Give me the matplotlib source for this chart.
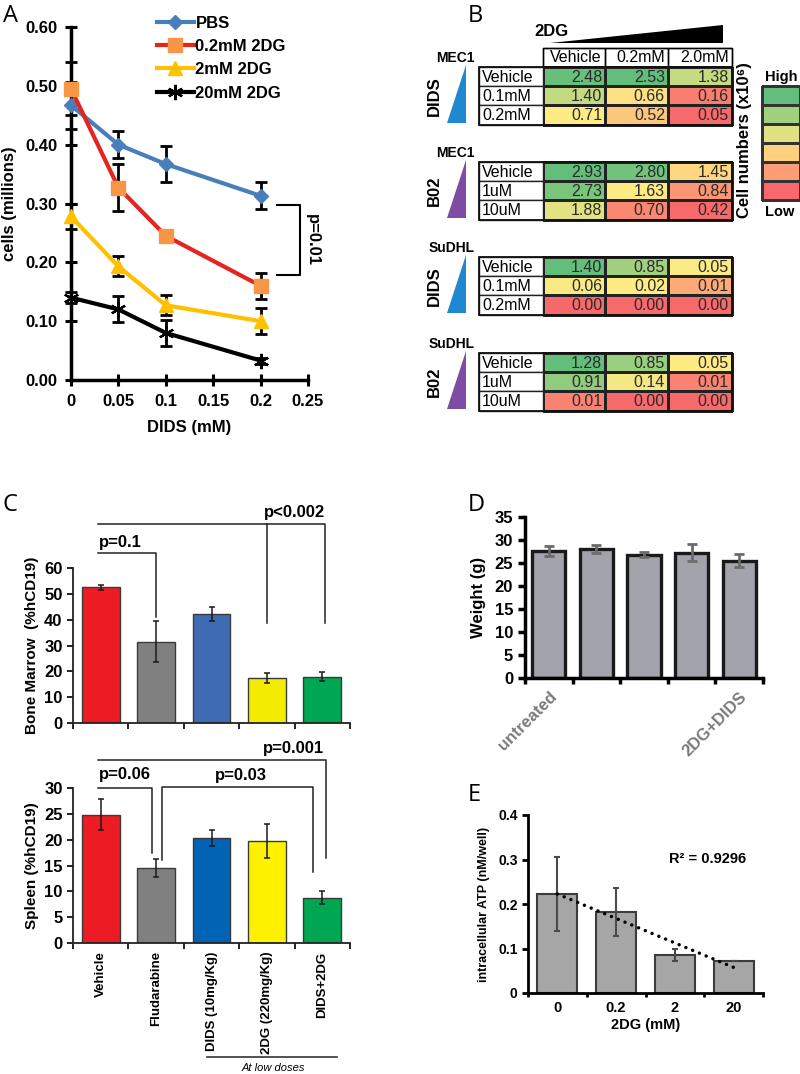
import numpy as np
import matplotlib
matplotlib.use("Agg")
import matplotlib.pyplot as plt
from matplotlib.colors import LinearSegmentedColormap, TwoSlopeNorm, Normalize
from matplotlib.patches import Polygon, Rectangle

plt.rcParams['font.family'] = ['Liberation Sans', 'DejaVu Sans']

# ---- panel A: cell counts vs DIDS
dids_mM = [0, 0.05, 0.1, 0.2]
pbs = [0.467, 0.400, 0.367, 0.313]
pbs_err = [0.040, 0.023, 0.030, 0.023]
dg_02 = [0.495, 0.327, 0.245, 0.160]
dg_02_err = [0.045, 0.040, 0.0, 0.022]
dg_2 = [0.278, 0.193, 0.127, 0.100]
dg_2_err = [0.022, 0.017, 0.017, 0.022]
dg_20 = [0.140, 0.120, 0.080, 0.033]
dg_20_err = [0.009, 0.022, 0.022, 0.005]

# ---- panel B: cell numbers (x10^6), rows = inhibitor dose, cols = 2DG dose
b_cols = ["Vehicle", "0.2mM", "2.0mM"]
dids_rows = ["Vehicle", "0.1mM", "0.2mM"]
b02_rows = ["Vehicle", "1uM", "10uM"]
mec1_dids = [[2.48, 2.53, 1.38], [1.40, 0.66, 0.16], [0.71, 0.52, 0.05]]
mec1_b02 = [[2.93, 2.80, 1.45], [2.73, 1.63, 0.84], [1.88, 0.70, 0.42]]
sudhl_dids = [[1.40, 0.85, 0.05], [0.06, 0.02, 0.01], [0.00, 0.00, 0.00]]
sudhl_b02 = [[1.28, 0.85, 0.05], [0.91, 0.14, 0.01], [0.01, 0.00, 0.00]]

# ---- panel C: %hCD19
c_groups = ["Vehicle", "Fludarabine", "DIDS (10mg/Kg)", "2DG (220mg/Kg)", "DIDS+2DG"]
marrow = [52.5, 31.5, 42.2, 17.5, 18.0]
marrow_err = [1.0, 7.8, 2.8, 2.0, 1.8]
spleen = [24.8, 14.5, 20.3, 19.7, 8.8]
spleen_err = [3.0, 1.8, 1.6, 3.3, 1.3]
marrow_colors = ['#ed1c24', '#808080', '#3f6bb5', '#f4ec00', '#00a651']
spleen_colors = ['#ed1c24', '#808080', '#0063b4', '#fff200', '#00a651']

# ---- panel D: weight
d_labels = ["untreated", "", "", "", "2DG+DIDS"]
weight = [27.6, 28.0, 26.8, 27.2, 25.5]
weight_err = [1.0, 0.85, 0.55, 1.85, 1.45]

# ---- panel E: ATP
e_doses = ["0", "0.2", "2", "20"]
atp = [0.222, 0.182, 0.085, 0.071]
atp_err = [0.083, 0.055, 0.014, 0.0]

W, H = 800, 1074
fig = plt.figure(figsize=(W / 100, H / 100), dpi=100)


def px_axes(x0, y0, x1, y1):
    return fig.add_axes([x0 / W, 1 - y1 / H, (x1 - x0) / W, (y1 - y0) / H])


bold = dict(fontweight='bold')

# overlay in pixel coordinates for panel B and free annotations
ov = fig.add_axes([0, 0, 1, 1])
ov.set_xlim(0, W)
ov.set_ylim(H, 0)
ov.axis('off')

for txt, (x, y) in zip("ABCDE", [(3, 16), (468, 16), (3, 505), (468, 505), (468, 795)]):
    ov.text(x, y, txt, fontsize=17, family='Open Sans', va='center', ha='left')

# ================= A
axA = px_axes(71, 27, 308, 380)
series = [
    ("PBS", pbs, pbs_err, dict(color='#4a7ebb', marker='D', ms=7)),
    ("0.2mM 2DG", dg_02, dg_02_err, dict(color='#e5231f', marker='s', ms=10,
                                          mfc='#f79646', mec='#f79646')),
    ("2mM 2DG", dg_2, dg_2_err, dict(color='#ffc000', marker='^', ms=10)),
    ("20mM 2DG", dg_20, dg_20_err, dict(color='black', marker=(6, 2, 0), ms=11, mew=1.6)),
]
handles = []
for name, vals, err, style in series:
    axA.errorbar(dids_mM, vals, yerr=err, fmt='none', ecolor='black', elinewidth=2,
                 capsize=4.5, capthick=2, clip_on=False, zorder=2)
for name, vals, err, style in series:
    h, = axA.plot(dids_mM, vals, lw=3, clip_on=False, label=name, zorder=3, **style)
    handles.append(h)
axA.set_xlim(0, 0.25)
axA.set_ylim(0, 0.6)
axA.set_xticks([0, 0.05, 0.1, 0.15, 0.2, 0.25])
axA.set_xticklabels(["0", "0.05", "0.1", "0.15", "0.2", "0.25"], **bold)
axA.set_yticks(np.arange(0, 0.61, 0.1))
axA.set_yticklabels([f"{v:.2f}" for v in np.arange(0, 0.61, 0.1)], **bold)
axA.tick_params(labelsize=12, width=2.2, length=8, direction='inout', pad=6)
for s in ['top', 'right']:
    axA.spines[s].set_visible(False)
for s in ['left', 'bottom']:
    axA.spines[s].set_linewidth(2.5)
axA.set_xlabel("DIDS (mM)", fontsize=12, labelpad=8, **bold)
axA.set_ylabel("cells (millions)", fontsize=12, labelpad=6, **bold)
axA.legend(handles=handles, loc='upper left', bbox_to_anchor=(0.30, 1.075), frameon=False,
           handlelength=2.2, handletextpad=0.1, labelspacing=0.5,
           prop=dict(size=12, weight='bold'))
axA.plot([0.217, 0.2415, 0.2415, 0.217], [0.298, 0.298, 0.178, 0.178], color='black',
         lw=1.5, clip_on=False)
axA.text(0.2545, 0.238, "p=0.01", rotation=-90, ha='center', va='center', fontsize=12,
         **bold)

# ================= B
cmap = LinearSegmentedColormap.from_list('excel', ['#f8696b', '#ffeb84', '#63be7b'])
col_edges = np.array([543, 605, 668, 732])
row_h = 19.2
lab_x0 = 479
ov.add_patch(Rectangle((col_edges[0], 48), col_edges[-1] - col_edges[0], 19,
                       fc='white', ec='black', lw=1))
for j, c in enumerate(b_cols):
    ov.add_patch(Rectangle((col_edges[j], 48), col_edges[j + 1] - col_edges[j], 19,
                           fc='none', ec='black', lw=1))
    ov.text(col_edges[j + 1] - 3, 58, c, ha='right', va='center', fontsize=11.5)
ov.text(534, 31, "2DG", ha='left', va='center', fontsize=12, **bold)
ov.add_patch(Polygon([(550, 43), (723, 43), (723, 25)], closed=True, fc='black', ec='none'))

tables = [("MEC1", "DIDS", dids_rows, mec1_dids, '#1e88d0', 67),
          ("MEC1", "B02", b02_rows, mec1_b02, '#7e4da3', 162),
          ("SuDHL", "DIDS", dids_rows, sudhl_dids, '#1e88d0', 257),
          ("SuDHL", "B02", b02_rows, sudhl_b02, '#7e4da3', 353)]
for cell, drug, rows, vals, wcol, top in tables:
    vals = np.array(vals)
    row_edges = top + row_h * np.arange(len(rows) + 1)
    norm = TwoSlopeNorm(vcenter=np.median(vals), vmin=vals.min(), vmax=vals.max())
    ov.pcolormesh(col_edges, row_edges, vals, cmap=cmap, norm=norm,
                  edgecolors='#222222', linewidth=1)
    for i, r in enumerate(rows):
        ov.add_patch(Rectangle((lab_x0, row_edges[i]), col_edges[0] - lab_x0, row_h,
                               fc='white', ec='#222222', lw=1))
        ov.text(lab_x0 + 3, row_edges[i] + row_h / 2 + 0.5, r, ha='left', va='center',
                fontsize=11.5)
        for j in range(len(b_cols)):
            ov.text(col_edges[j + 1] - 3, row_edges[i] + row_h / 2 + 0.5, f"{vals[i, j]:.2f}",
                    ha='right', va='center', fontsize=11.5, color='#2a2a2a')
    ov.add_patch(Rectangle((lab_x0, top), col_edges[-1] - lab_x0, row_edges[-1] - top,
                           fc='none', ec='#111111', lw=1.3))
    ov.text(475, top - 9, cell, ha='right', va='center', fontsize=10, **bold)
    ov.text(434, (top + row_edges[-1]) / 2, drug, rotation=90, ha='center', va='center',
            fontsize=12, **bold)
    ov.add_patch(Polygon([(466, top - 2), (447, top + 56), (466, top + 56)], closed=True,
                         fc=wcol, ec='none'))

legend_levels = np.arange(6)[::-1].reshape(-1, 1)
ov.pcolormesh([762, 800], 86 + 19 * np.arange(7), legend_levels, cmap=cmap,
              norm=Normalize(0, 5), edgecolors='#333333', linewidth=1)
ov.text(765, 77, "High", ha='left', va='center', fontsize=10.5, **bold)
ov.text(765, 212, "Low", ha='left', va='center', fontsize=10.5, **bold)
ov.text(744, 140, "Cell numbers (x10\u2076)", rotation=90, ha='center', va='center',
        fontsize=12, **bold)


# ================= C
def bar_axes(ax, vals, err, colors, ymax, step):
    x = np.arange(len(vals))
    ax.bar(x, vals, width=0.68, color=colors, edgecolor='#3a3a3a', lw=1, zorder=2)
    ax.errorbar(x, vals, yerr=err, fmt='none', ecolor='#1a1a1a', elinewidth=1.1,
                capsize=2.5, capthick=1.1, zorder=3)
    ax.set_xlim(-0.5, len(vals) - 0.5)
    ax.set_ylim(0, ymax)
    ax.set_yticks(np.arange(0, ymax + 0.1, step))
    ax.set_yticklabels([f"{v:g}" for v in np.arange(0, ymax + 0.1, step)], **bold)
    ax.set_xticks(list(x - 0.5) + [len(vals) - 0.5], minor=True)
    ax.set_xticks(x)
    ax.tick_params(axis='x', which='major', length=0)
    ax.tick_params(axis='x', which='minor', length=4, width=1.2, direction='out')
    ax.tick_params(axis='y', length=4, width=1.2, labelsize=12)
    for s in ['top', 'right']:
        ax.spines[s].set_visible(False)
    for s in ['left', 'bottom']:
        ax.spines[s].set_linewidth(1.3)
        ax.spines[s].set_color('#222222')


def bracket(ax, xs, ys, lw=1.1):
    ax.plot(xs, ys, color='#222222', lw=lw, clip_on=False)


axC1 = px_axes(73, 568, 350, 723)
bar_axes(axC1, marrow, marrow_err, marrow_colors, 60, 10)
axC1.set_xticklabels([])
axC1.set_ylabel("Bone Marrow  (%hCD19)", fontsize=11, labelpad=4, **bold)
bracket(axC1, [-0.04, 0.99, 0.99], [65.8, 65.8, 41])
axC1.text(-0.04, 68.2, "p=0.1", ha='left', va='baseline', fontsize=12, **bold)
bracket(axC1, [-0.04, 4.04, 4.04], [77, 77, 38.7])
bracket(axC1, [3.01, 3.01], [77, 38.7])
axC1.text(3.5, 79.8, "p<0.002", ha='center', va='baseline', fontsize=12, **bold)

axC2 = px_axes(73, 788, 350, 943)
bar_axes(axC2, spleen, spleen_err, spleen_colors, 30, 5)
axC2.set_xticklabels(c_groups, rotation=90, fontsize=9.5, va='top', **bold)
axC2.tick_params(axis='x', which='major', pad=6)
axC2.set_ylabel("Spleen (%hCD19)", fontsize=11, labelpad=4, **bold)
bracket(axC2, [-0.04, 0.92, 0.92], [30, 30, 17.4])
axC2.text(-0.04, 31.7, "p=0.06", ha='left', va='baseline', fontsize=12, **bold)
bracket(axC2, [1.1, 1.1, 3.84, 3.84], [16, 30.2, 30.2, 13.7])
axC2.text(2.53, 31.6, "p=0.03", ha='center', va='baseline', fontsize=12, **bold)
bracket(axC2, [-0.04, 4.06, 4.06], [35.4, 35.4, 16.4])
axC2.text(3.48, 36.8, "p=0.001", ha='center', va='baseline', fontsize=12, **bold)
ov.plot([207, 337], [1057, 1057], color='#222222', lw=1.1)
ov.text(273, 1068, "At low doses", ha='center', va='center', fontsize=8, style='italic')

# ================= D
axD = px_axes(525, 517, 763, 678)
xd = np.arange(len(weight))
axD.bar(xd, weight, width=0.7, color='#a3a3ab', edgecolor='#1a1a1a', lw=2.4, zorder=2)
axD.errorbar(xd, weight, yerr=weight_err, fmt='none', ecolor='#6b6b6b', elinewidth=2,
             capsize=3.5, capthick=2, zorder=3)
axD.set_xlim(-0.5, 4.5)
axD.set_ylim(0, 35)
axD.set_yticks(np.arange(0, 36, 5))
axD.set_yticklabels([str(v) for v in range(0, 36, 5)], **bold)
axD.set_xticks(list(xd - 0.5) + [4.5], minor=True)
axD.set_xticks(xd)
axD.set_xticklabels(d_labels, rotation=45, ha='right', rotation_mode='anchor',
                    color='#7a7a7a', fontsize=12, **bold)
axD.tick_params(axis='x', which='major', length=0, pad=8)
axD.tick_params(axis='x', which='minor', length=4, width=2.5)
axD.tick_params(axis='y', length=5, width=2.5, labelsize=12)
for s in ['top', 'right']:
    axD.spines[s].set_visible(False)
for s in ['left', 'bottom']:
    axD.spines[s].set_linewidth(2.5)
axD.set_ylabel("Weight (g)", fontsize=12, labelpad=6, **bold)

# ================= E
axE = px_axes(528, 815, 763, 993)
xe = np.arange(len(atp))
axE.bar(xe, atp, width=0.68, color='#a6a6a6', edgecolor='#3c3c3c', lw=1.5, zorder=2)
axE.errorbar(xe, atp, yerr=atp_err, fmt='none', ecolor='#4a4a4a', elinewidth=1.5,
             capsize=2.5, capthick=1.5, zorder=3)
slope, icpt = np.polyfit(xe, atp, 1)
xl = np.array([0, len(atp) - 1])
axE.plot(xl, icpt + slope * xl, color='black', lw=2.5, ls=(0, (0.01, 2.1)),
         dash_capstyle='round', zorder=4)
axE.text(2.55, 0.301, "R\u00b2 = 0.9296", ha='center', va='center', fontsize=10.5, **bold)
axE.set_xlim(-0.5, 3.5)
axE.set_ylim(0, 0.4)
axE.set_yticks(np.arange(0, 0.41, 0.1))
axE.set_yticklabels([f"{v:g}" for v in np.round(np.arange(0, 0.41, 0.1), 1)], **bold)
axE.set_xticks(list(xe - 0.5) + [3.5], minor=True)
axE.set_xticks(xe)
axE.set_xticklabels(e_doses, fontsize=10.5, **bold)
axE.tick_params(axis='x', which='major', length=0, pad=6)
axE.tick_params(axis='x', which='minor', length=3, width=2)
axE.tick_params(axis='y', length=4, width=2, labelsize=10)
for s in ['top', 'right']:
    axE.spines[s].set_visible(False)
for s in ['left', 'bottom']:
    axE.spines[s].set_linewidth(2)
axE.set_xlabel("2DG (mM)", fontsize=10.5, labelpad=2, **bold)
axE.set_ylabel("intracellular ATP (nM/well)", fontsize=9, labelpad=6, **bold)

fig.savefig("out.png", dpi=100)
